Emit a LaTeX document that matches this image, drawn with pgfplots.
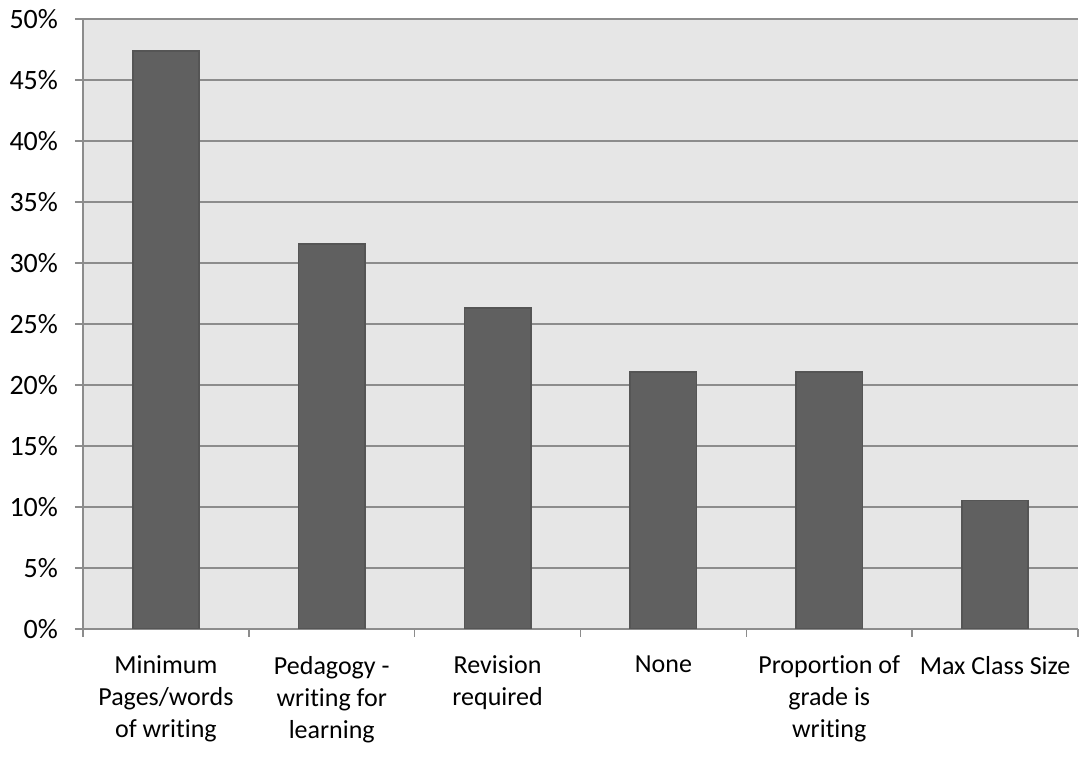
\documentclass[border=0pt]{standalone}
\usepackage{fontspec}
\setmainfont[Ligatures=NoCommon]{Carlito}
\usepackage{pgfplots}
\pgfplotsset{compat=1.18}
\definecolor{plotbg}{HTML}{E6E6E6}
\definecolor{barfill}{HTML}{606060}
\definecolor{barline}{HTML}{555555}
\definecolor{gridgray}{HTML}{8C8C8C}
\begin{document}
\begin{tikzpicture}
\begin{axis}[
    scale only axis,
    width=497.5pt, height=305pt,
    xmin=-0.5, xmax=5.5,
    ymin=0, ymax=50,
    axis background/.style={fill=plotbg},
    axis line style={gridgray, line width=0.8pt},
    axis x line*=bottom,
    axis y line*=left,
    ytick={0,5,...,50},
    yticklabel={\pgfmathprintnumber{\tick}\%},
    ymajorgrids,
    grid style={gridgray, line width=0.8pt},
    tick style={gridgray, line width=0.8pt},
    tick align=outside,
    major tick length=4pt,
    % category boundaries carry the tick marks
    xtick={-0.5,0.5,1.5,2.5,3.5,4.5,5.5},
    xticklabels={},
    % category names sit between them, without marks
    extra x ticks={0,1,2,3,4,5},
    extra x tick labels={{Minimum\\Pages/words\\of writing},{Pedagogy -\\writing for\\learning},{Revision\\required},{None},{Proportion of\\grade is\\writing},{Max Class Size}},
    extra x tick style={major tick length=0pt, grid=none},
    xticklabel style={align=center, font=\fontsize{13}{16}\selectfont, text depth=0pt, yshift=-10pt},
    yticklabel style={font=\fontsize{14}{16}\selectfont, xshift=-5pt},
    /pgf/number format/assume math mode=true,
    tick label style={text=black},
]
\addplot[ybar, bar width=0.4, fill=barfill, draw=barline, line width=0.8pt]
coordinates {
    (0,47.37)
    (1,31.58)
    (2,26.32)
    (3,21.05)
    (4,21.05)
    (5,10.53)
};
\end{axis}
\pgfresetboundingbox
\path (current axis.south west) ++(-41.5pt,-65pt) coordinate (bl);
\path (current axis.north east) ++(1.5pt,9.5pt) coordinate (tr);
\path[use as bounding box] (bl) rectangle (tr);
\end{tikzpicture}
\end{document}
